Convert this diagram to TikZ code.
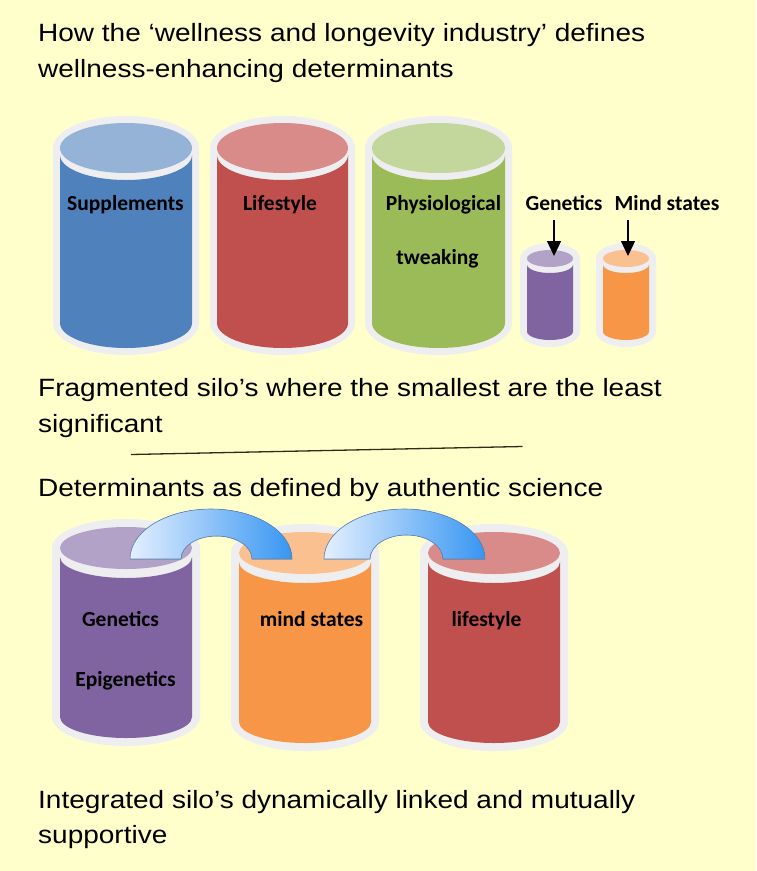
\documentclass[tikz,border=0pt]{standalone}
\usepackage{fontspec}
\setmainfont{Liberation Sans}
\newfontfamily\capfam[FakeStretch=1.12]{Liberation Sans}
\newfontfamily\lblfam{Carlito}
\usetikzlibrary{arrows.meta}
\definecolor{bg}{HTML}{FFFFCC}
\definecolor{rimc}{HTML}{EEEEF0}
\definecolor{cblue}{HTML}{4F81BD}
\definecolor{cbluet}{HTML}{95B3D7}
\definecolor{cred}{HTML}{C0504D}
\definecolor{credt}{HTML}{D98B89}
\definecolor{cgreen}{HTML}{9BBB59}
\definecolor{cgreent}{HTML}{C3D69B}
\definecolor{cpurp}{HTML}{8064A2}
\definecolor{cpurpt}{HTML}{B3A2C7}
\definecolor{corng}{HTML}{F79646}
\definecolor{corngt}{HTML}{FAC090}
\definecolor{arrlight}{HTML}{E4EFFF}
\definecolor{arrdark}{HTML}{3796F2}
\definecolor{arredge}{HTML}{5C86B8}
\definecolor{rulec}{HTML}{2E2E18}
\newcommand{\silo}[9]{%
  \pgfmathsetmacro\sRx{#4+#8}\pgfmathsetmacro\sRy{#5+#8}%
  \fill[rimc] ({#1-#4-#8},#2) -- ({#1-#4-#8},#3)
     arc[start angle=180,end angle=360,x radius=\sRx pt,y radius=\sRy pt]
     -- ({#1+#4+#8},#2)
     arc[start angle=0,end angle=180,x radius=\sRx pt,y radius=\sRy pt] -- cycle;
  \fill[#6] ({#1-#4},{#2+#9}) -- ({#1-#4},#3)
     arc[start angle=180,end angle=360,x radius=#4pt,y radius=#5pt]
     -- ({#1+#4},{#2+#9})
     arc[start angle=0,end angle=-180,x radius=#4pt,y radius=#5pt] -- cycle;
  \fill[#7] (#1,#2) ellipse[x radius=#4pt,y radius=#5pt];
}
\tikzset{
  txt/.style={font=\capfam\fontsize{25}{30}\selectfont, anchor=base west, inner sep=0pt, text=black},
  lbl/.style={font=\lblfam\bfseries\fontsize{21.5}{26}\selectfont, anchor=base, inner sep=0pt, text=black},
  pointer/.style={-{Triangle[width=14pt,length=15pt]}, line width=1.3pt, black},
  linkband/.style={left color=arrlight, right color=arrdark, draw=arredge, line width=0.6pt},
}
\begin{document}
\begin{tikzpicture}[x=1pt,y=-1pt]
\fill[bg] (0,0) rectangle (756,871);
\useasboundingbox (0,0) rectangle (756,871);

% titles
\node[txt] (t1) at (38,41) {How the ‘wellness and longevity industry’ defines};
\node[txt] (t2) at (38,77) {wellness-enhancing determinants};

% top row silos
\silo{126}{148}{323}{66}{25}{cblue}{cbluet}{7}{7}
\silo{282.5}{148}{323}{65.5}{25}{cred}{credt}{7}{7}
\silo{438.5}{148}{323}{66.5}{25}{cgreen}{cgreent}{7}{7}
\silo{550}{258.5}{331.5}{23}{8.5}{cpurp}{cpurpt}{7}{6}
\silo{626}{258.5}{331.5}{23}{8.5}{corng}{corngt}{7}{6}

\node[lbl] (sup) at (125.5,210) {Supplements};
\node[lbl] (lif) at (280,210) {Lifestyle};
\node[lbl] (phy) at (443.5,210) {Physiological};
\node[lbl] (twk) at (437.5,264) {tweaking};
\node[lbl] (gen) at (564,210) {Genetics};
\node[lbl] (mnd) at (667,210) {Mind states};

\coordinate (genA) at (554,220);
\coordinate (genB) at (554,256);
\coordinate (mndA) at (628,220);
\coordinate (mndB) at (628,256);
\draw[pointer] (genA) -- (genB);
\draw[pointer] (mndA) -- (mndB);

\node[txt] (f1) at (38,396) {Fragmented silo’s where the smallest are the least};
\node[txt] (f2) at (38,432) {significant};

\coordinate (ruleA) at (131,454.5);
\coordinate (ruleB) at (522.5,446.5);
\draw[rulec, line width=1.3pt] (ruleA) -- (ruleB);

\node[txt] (d1) at (38,496) {Determinants as defined by authentic science};

% bottom row silos
\silo{126}{548}{717}{66}{21}{cpurp}{cpurpt}{8}{9}
\silo{305}{553}{722}{66}{21}{corng}{corngt}{8}{9}
\silo{494}{553}{722}{66}{21}{cred}{credt}{8}{9}

% curved linking arrows
\fill[linkband] (130,559) arc[start angle=180,end angle=0,x radius=81pt,y radius=50pt]
   -- (252,559) arc[start angle=0,end angle=180,x radius=35.5pt,y radius=23pt] -- cycle;
\fill[linkband] (324,559) arc[start angle=180,end angle=0,x radius=80.5pt,y radius=50pt]
   -- (443,559) arc[start angle=0,end angle=180,x radius=36.5pt,y radius=24pt] -- cycle;

\node[lbl] (bgen) at (120.5,626) {Genetics};
\node[lbl] (bepi) at (125.5,686) {Epigenetics};
\node[lbl] (bmnd) at (311.5,626) {mind states};
\node[lbl] (blif) at (486.5,626) {lifestyle};

\node[txt] (i1) at (38,808) {Integrated silo’s dynamically linked and mutually};
\node[txt] (i2) at (38,843) {supportive};
\end{tikzpicture}
\end{document}
